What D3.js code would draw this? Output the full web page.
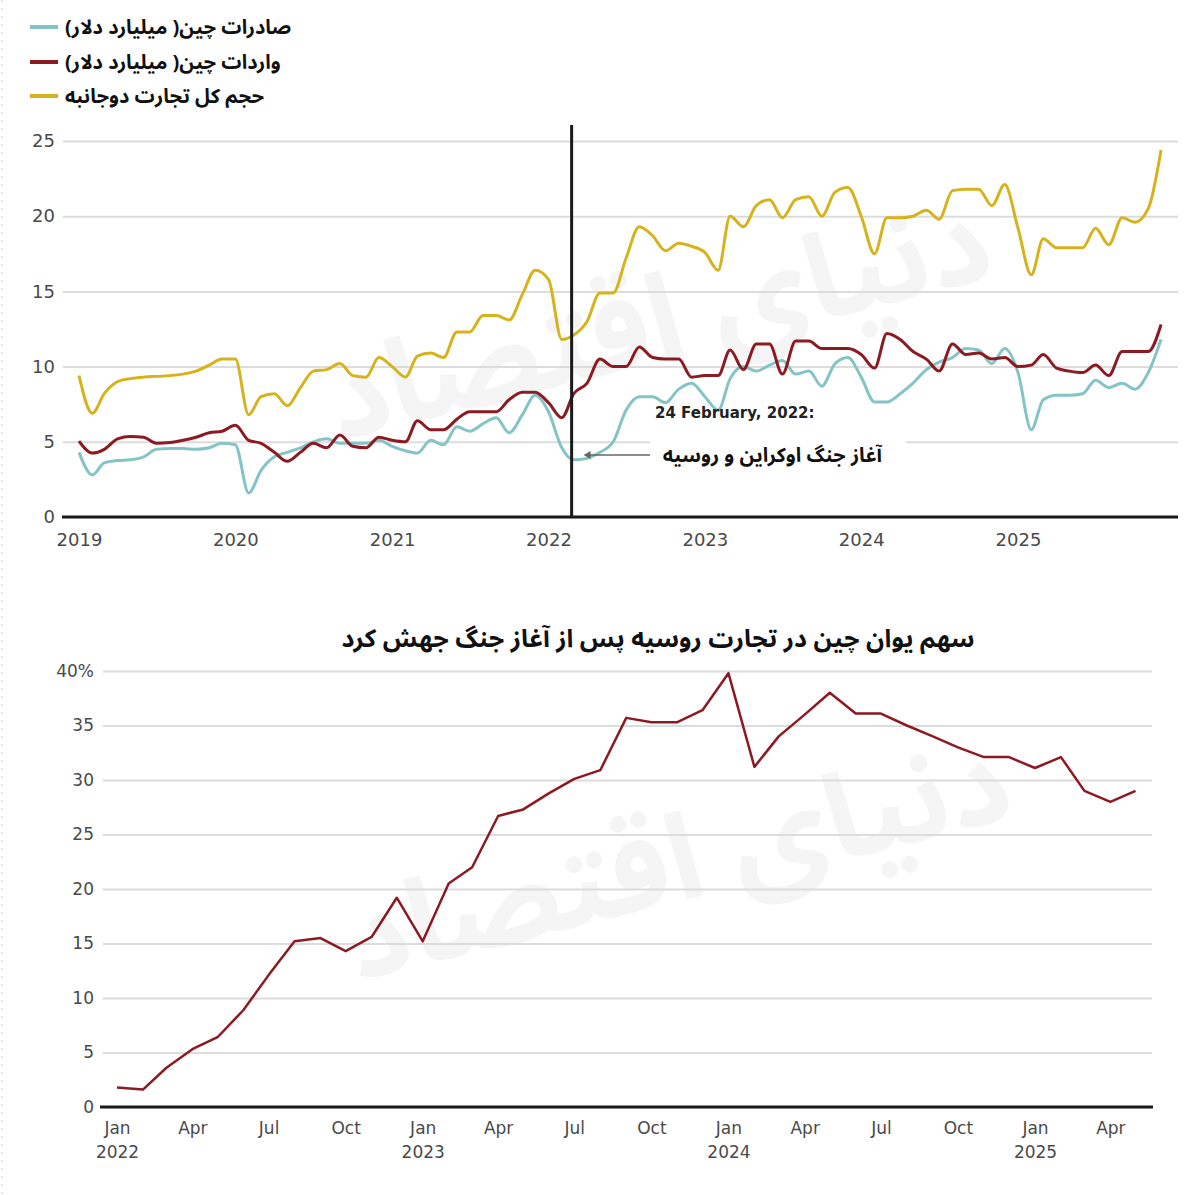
<!DOCTYPE html>
<html>
<head>
<meta charset="utf-8">
<script src="https://cdn.jsdelivr.net/npm/d3@7"></script>
<style>
  body { margin: 0; background: #fff; }
  svg { display: block; }
  .fa { font-family: "Noto Sans Arabic UI", "Noto Sans Arabic", "Vazirmatn", "DejaVu Sans", sans-serif; font-weight: bold; }
  .tick text { font-family: "DejaVu Sans", sans-serif; fill: #4a4a4a; }
</style>
</head>
<body>
<svg id="chart" width="1200" height="1195"></svg>
<script>
// ---- data ----
const tradeMonths = d3.timeMonth.range(new Date(2019, 0, 1), new Date(2026, 0, 1));

const exportsCN = [
  4.3, 2.8, 3.6, 3.75, 3.8, 4.0, 4.5, 4.55, 4.55, 4.5, 4.6, 4.9,
  4.8, 1.6, 3.1, 4.0, 4.3, 4.6, 5.0, 5.2, 4.9, 4.9, 4.9, 5.1,
  4.7, 4.4, 4.25, 5.1, 4.8, 6.0, 5.7, 6.2, 6.6, 5.6, 6.8, 8.1,
  7.0, 4.6, 3.8, 3.9, 4.3, 5.0, 7.1, 8.0, 8.0, 7.6, 8.5, 8.9,
  8.0, 7.1, 9.2, 10.0, 9.7, 10.1, 10.4, 9.5, 9.7, 8.7, 10.2, 10.6,
  9.3, 7.65, 7.65, 8.2, 8.9, 9.8, 10.3, 10.6, 11.2, 11.1, 10.2, 11.2,
  9.6, 5.8, 7.8, 8.1, 8.1, 8.2, 9.1, 8.6, 8.9, 8.5, 9.6, 11.8
];

const importsCN = [
  5.05, 4.25, 4.5, 5.2, 5.35, 5.3, 4.9, 4.95, 5.1, 5.3, 5.6, 5.7,
  6.1, 5.1, 4.9, 4.3, 3.7, 4.3, 4.9, 4.6, 5.45, 4.7, 4.6, 5.3,
  5.1, 5.0, 6.4, 5.8, 5.8, 6.5, 7.0, 7.0, 7.0, 7.8, 8.3, 8.3,
  7.6, 6.6, 8.2, 8.9, 10.5, 10.0, 10.0, 11.3, 10.6, 10.5, 10.5, 9.3,
  9.4, 9.4, 11.1, 9.8, 11.5, 11.5, 9.5, 11.7, 11.7, 11.2, 11.2, 11.2,
  10.8, 9.9, 12.2, 11.8, 11.0, 10.5, 9.7, 11.5, 10.8, 10.9, 10.5, 10.6,
  10.0, 10.1, 10.8, 9.9, 9.7, 9.6, 10.1, 9.4, 11.0, 11.0, 11.0, 12.8
];

const totalTrade = [
  9.4, 6.9, 8.2, 9.0, 9.2, 9.3, 9.35, 9.4, 9.5, 9.7, 10.1, 10.5,
  10.5, 6.8, 8.0, 8.2, 7.4, 8.6, 9.7, 9.8, 10.2, 9.4, 9.3, 10.6,
  10.0, 9.3, 10.7, 10.9, 10.6, 12.3, 12.3, 13.4, 13.4, 13.1, 14.8, 16.4,
  15.8, 11.8, 12.1, 13.0, 14.9, 14.9, 17.2, 19.3, 18.7, 17.7, 18.2, 18.0,
  17.6, 16.4, 20.0, 19.3, 20.7, 21.1, 19.9, 21.1, 21.3, 20.0, 21.6, 21.9,
  20.0, 17.5, 19.9, 19.9, 20.0, 20.4, 19.8, 21.7, 21.8, 21.8, 20.7, 22.1,
  19.2, 16.1, 18.5, 17.9, 17.9, 17.9, 19.2, 18.1, 19.9, 19.6, 20.5, 24.4
];

const legendLabels = [
  "صادرات چین( میلیارد دلار)",
  "واردات چین( میلیارد دلار)",
  "حجم کل تجارت دوجانبه"
];
const seriesColors = ["#85c4c6", "#8c1a22", "#d6b31d"];
const topTicks = [0, 5, 10, 15, 20, 25];
const warDate = new Date(2022, 1, 24);
const warDateLabel = "24 February, 2022:";
const warLabel = "آغاز جنگ اوکراین و روسیه";

const yuanMonths = d3.timeMonth.range(new Date(2022, 0, 1), new Date(2025, 5, 1));
const yuanShare = [
  1.8, 1.6, 3.6, 5.3, 6.4, 8.9, 12.1, 15.2, 15.5, 14.3, 15.6, 19.2,
  15.2, 20.5, 22.0, 26.7, 27.3, 28.8, 30.1, 30.9, 35.7, 35.3, 35.3, 36.4,
  39.8, 31.2, 34.0, 36.0, 38.0, 36.1, 36.1, 35.0, 34.0, 33.0, 32.1, 32.1,
  31.1, 32.1, 29.0, 28.0, 29.0
];
const bottomTicks = [0, 5, 10, 15, 20, 25, 30, 35, 40];
const bottomTitle = "سهم یوان چین در تجارت روسیه پس از آغاز جنگ جهش کرد";
const watermark = "دنیای اقتصاد";

// ---- setup ----
const svg = d3.select("#chart");

// page border dots
svg.append("line")
  .attr("x1", 2).attr("x2", 2).attr("y1", 0).attr("y2", 1195)
  .attr("stroke", "#ccc").attr("stroke-width", 1).attr("stroke-dasharray", "2,6");

// ---- top chart ----
const topL = 63, topR = 1178;
const xTop = d3.scaleTime()
  .domain([new Date(2019, 0, 1), new Date(2025, 0, 1)])
  .range([79, 1018]);
const yTop = d3.scaleLinear().domain([0, 25]).range([517, 141]);

const gTop = svg.append("g");

gTop.append("text")
  .attr("class", "fa")
  .attr("x", 660).attr("y", 360)
  .attr("transform", "rotate(-14,660,330)")
  .attr("text-anchor", "middle")
  .attr("font-size", 120)
  .attr("fill", "#000").attr("opacity", 0.035)
  .text(watermark);

const gyTop = gTop.append("g")
  .attr("transform", `translate(${topL},0)`)
  .call(d3.axisLeft(yTop).tickValues(topTicks).tickSize(-(topR - topL)).tickPadding(8));
gyTop.select(".domain").remove();
gyTop.selectAll(".tick line").attr("stroke", "#dcdcdc").attr("stroke-width", 2);
gyTop.selectAll(".tick text").attr("font-size", 18);

const gxTop = gTop.append("g")
  .attr("transform", `translate(0,${yTop(0)})`)
  .call(d3.axisBottom(xTop).ticks(d3.timeYear.every(1)).tickSize(0).tickPadding(16)
    .tickFormat(d3.timeFormat("%Y")));
gxTop.select(".domain").remove();
gxTop.selectAll(".tick text").attr("font-size", 18);

gTop.append("line")
  .attr("x1", topL - 1).attr("x2", topR)
  .attr("y1", yTop(0)).attr("y2", yTop(0))
  .attr("stroke", "#1a1a1a").attr("stroke-width", 3);

const lineTop = d3.line()
  .x((d, i) => xTop(tradeMonths[i]))
  .y(d => yTop(d))
  .curve(d3.curveMonotoneX);

[exportsCN, importsCN, totalTrade].forEach((s, k) => {
  gTop.append("path")
    .datum(s)
    .attr("d", lineTop)
    .attr("fill", "none")
    .attr("stroke", seriesColors[k])
    .attr("stroke-width", 3)
    .attr("stroke-linejoin", "round");
});

// war line + annotation
gTop.append("line")
  .attr("x1", xTop(warDate)).attr("x2", xTop(warDate))
  .attr("y1", 125).attr("y2", yTop(0))
  .attr("stroke", "#1a1a1a").attr("stroke-width", 3);

gTop.append("rect")
  .attr("x", 650).attr("y", 428).attr("width", 256).attr("height", 44)
  .attr("fill", "#fff");

gTop.append("line")
  .attr("x1", xTop(warDate) + 14).attr("x2", 650)
  .attr("y1", 455).attr("y2", 455)
  .attr("stroke", "#666").attr("stroke-width", 1.5);
gTop.append("path")
  .attr("d", `M${xTop(warDate) + 12},455 l7,-4 l0,8 z`)
  .attr("fill", "#666");

gTop.append("text")
  .attr("x", 655).attr("y", 418)
  .attr("font-family", "DejaVu Sans, sans-serif")
  .attr("font-weight", "bold")
  .attr("font-size", 15)
  .attr("fill", "#222")
  .text(warDateLabel);

gTop.append("text")
  .attr("class", "fa")
  .attr("x", 882).attr("y", 462)
  .attr("direction", "rtl")
  .attr("text-anchor", "start")
  .attr("font-size", 20)
  .attr("fill", "#111")
  .text(warLabel);

// legend
const legendY = [27, 62, 96];
legendLabels.forEach((lab, i) => {
  svg.append("line")
    .attr("x1", 30).attr("x2", 58)
    .attr("y1", legendY[i]).attr("y2", legendY[i])
    .attr("stroke", seriesColors[i]).attr("stroke-width", 4);
  svg.append("text")
    .attr("class", "fa")
    .attr("x", 65).attr("y", legendY[i] + 7)
    .attr("direction", "rtl")
    .attr("text-anchor", "end")
    .attr("font-size", 20)
    .attr("fill", "#111")
    .text(lab);
});

// ---- bottom chart ----
const botL = 103, botR = 1152;
const xBot = d3.scaleTime()
  .domain([new Date(2022, 0, 1), new Date(2025, 0, 1)])
  .range([117, 1035]);
const yBot = d3.scaleLinear().domain([0, 40]).range([1107, 671]);

const gBot = svg.append("g");

gBot.append("text")
  .attr("class", "fa")
  .attr("x", 680).attr("y", 900)
  .attr("transform", "rotate(-14,680,870)")
  .attr("text-anchor", "middle")
  .attr("font-size", 120)
  .attr("fill", "#000").attr("opacity", 0.035)
  .text(watermark);

gBot.append("text")
  .attr("class", "fa")
  .attr("x", 658).attr("y", 647)
  .attr("text-anchor", "middle")
  .attr("font-size", 25)
  .attr("fill", "#111")
  .text(bottomTitle);

const gyBot = gBot.append("g")
  .attr("transform", `translate(${botL},0)`)
  .call(d3.axisLeft(yBot).tickValues(bottomTicks).tickSize(-(botR - botL)).tickPadding(9)
    .tickFormat(d => d === 40 ? "40%" : d));
gyBot.select(".domain").remove();
gyBot.selectAll(".tick line").attr("stroke", "#dcdcdc").attr("stroke-width", 2);
gyBot.selectAll(".tick text").attr("font-size", 17);

const quarterTicks = d3.timeMonth.every(3).range(new Date(2022, 0, 1), new Date(2025, 4, 1));
const gxBot = gBot.append("g")
  .attr("transform", `translate(0,${yBot(0)})`)
  .call(d3.axisBottom(xBot).tickValues(quarterTicks).tickSize(0).tickPadding(15)
    .tickFormat(d3.timeFormat("%b")));
gxBot.select(".domain").remove();
gxBot.selectAll(".tick text").attr("font-size", 17)
  .each(function(d) {
    if (d.getMonth() === 0) {
      d3.select(this).append("tspan")
        .attr("x", 0).attr("dy", "1.4em")
        .text(d.getFullYear());
    }
  });

gBot.append("line")
  .attr("x1", botL - 3).attr("x2", botR + 1)
  .attr("y1", yBot(0)).attr("y2", yBot(0))
  .attr("stroke", "#1a1a1a").attr("stroke-width", 3);

const lineBot = d3.line()
  .x((d, i) => xBot(yuanMonths[i]))
  .y(d => yBot(d));

gBot.append("path")
  .datum(yuanShare)
  .attr("d", lineBot)
  .attr("fill", "none")
  .attr("stroke", "#8c1a22")
  .attr("stroke-width", 2.5)
  .attr("stroke-linejoin", "round");
</script>
</body>
</html>
